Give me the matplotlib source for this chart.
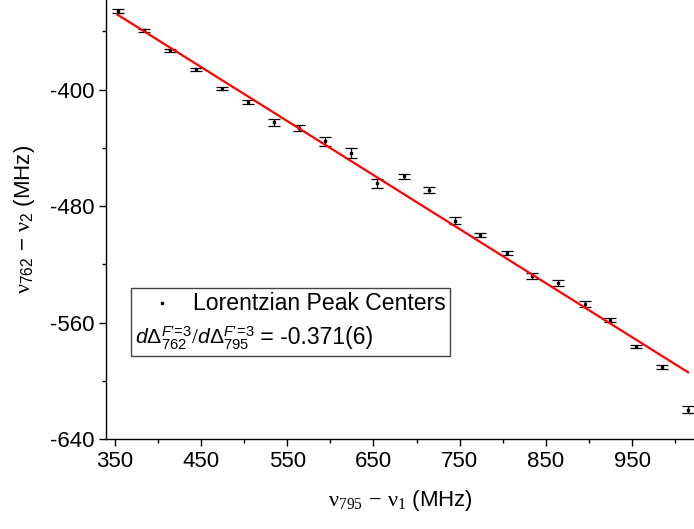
import numpy as np
import matplotlib
matplotlib.use('Agg')
import matplotlib.pyplot as plt
from matplotlib.lines import Line2D
from matplotlib.offsetbox import AnchoredOffsetbox, VPacker, HPacker, TextArea, DrawingArea

# peak centres from the Lorentzian fits (MHz)
nu795 = [353, 384, 414, 444, 474, 504, 534, 564, 594, 624, 654, 685,
         714, 745, 774, 805, 834, 864, 895, 924, 955, 985, 1015]
nu762 = [-346.1, -359.2, -373.1, -386.2, -399.3, -408.3, -422.5, -426.4,
         -435.6, -443.6, -464.5, -459.7, -468.8, -490.0, -500.1, -512.0,
         -528.3, -532.9, -547.3, -558.3, -576.5, -590.5, -619.9]
nu762_err = [1.4, 1.1, 1.1, 1.2, 1.1, 1.4, 2.3, 2.0, 3.1, 3.2, 3.1, 1.4,
             2.0, 2.2, 1.4, 1.4, 2.1, 2.2, 2.3, 1.4, 1.2, 1.2, 2.5]

# linear fit result
slope = -0.371
intercept = -217.6

plt.rcParams['font.family'] = ['Liberation Sans', 'DejaVu Sans']
plt.rcParams['font.size'] = 16
plt.rcParams['axes.unicode_minus'] = False
plt.rcParams['mathtext.fontset'] = 'custom'
plt.rcParams['mathtext.rm'] = 'Liberation Serif'
plt.rcParams['mathtext.it'] = 'Liberation Sans:italic'
plt.rcParams['mathtext.sf'] = 'Liberation Sans'

fig = plt.figure(figsize=(6.94, 5.29), dpi=100)
ax = fig.add_axes([0.1527, 0.1701, 0.8473, 0.8299])

ax.errorbar(nu795, nu762, yerr=nu762_err, fmt='s', ms=2.0, color='black',
            ecolor='black', elinewidth=0.9, capsize=4.5, capthick=0.9, zorder=2)

xs = np.array([nu795[0], nu795[-1]])
ax.plot(xs, slope * xs + intercept, color='red', lw=1.6, zorder=3)

ax.set_xlim(339.6, 1021.9)
ax.set_ylim(-640, -338.5)
ax.set_xticks(np.arange(350, 1000, 100))
ax.set_xticks(np.arange(400, 1020, 100), minor=True)
ax.set_yticks([-640, -560, -480, -400])
ax.set_yticks([-600, -520, -440, -360], minor=True)

for side in ('top', 'right'):
    ax.spines[side].set_visible(False)
for side in ('left', 'bottom'):
    ax.spines[side].set_linewidth(1.0)
ax.tick_params(which='major', direction='out', length=5, width=1.0, labelsize=16)
ax.tick_params(which='minor', direction='out', length=3, width=1.0)

ax.set_xlabel(r'$\mathrm{\nu_{795}}$ $-$ $\mathrm{\nu_{1}}$ (MHz)', fontsize=16)
ax.set_ylabel(r'$\mathrm{\nu}_{\mathsf{762}}$ $\mathsf{-}$ $\mathrm{\nu}_{\mathsf{2}}$ (MHz)',
              fontsize=16)
ax.xaxis.set_label_coords(0.5, -0.112)
ax.yaxis.set_label_coords(-0.118, 0.5)

# legend box: marker row plus the slope row without a handle
sup = r"F′\!\mathsf{=}\!\mathsf{3}"
slope_math = (r"$d\mathsf{\Delta}^{%s}_{\mathsf{762}}/d\mathsf{\Delta}^{%s}_{\mathsf{795}}$"
              % (sup, sup))
da = DrawingArea(42, 10, 0, 0)
da.add_artist(Line2D([20], [5], marker='s', ms=2.0, color='black', linestyle='none'))
row1 = HPacker(children=[da, TextArea('Lorentzian Peak Centers',
                                      textprops=dict(fontsize=16.6))],
               align='center', pad=0, sep=0)
row2 = HPacker(children=[TextArea(slope_math, textprops=dict(fontsize=15.2)),
                         TextArea(' = -0.371(6)', textprops=dict(fontsize=16.6))],
               align='baseline', pad=0, sep=0)
box = VPacker(children=[row1, row2], align='left', pad=2, sep=7)
anchored = AnchoredOffsetbox(loc='upper left', child=box, pad=0.05, borderpad=0,
                             frameon=True, bbox_to_anchor=(0.042, 0.344),
                             bbox_transform=ax.transAxes)
anchored.patch.set_edgecolor('#444444')
anchored.patch.set_linewidth(1.0)
anchored.patch.set_boxstyle('square', pad=0)
ax.add_artist(anchored)

fig.savefig('out.png', dpi=100)
